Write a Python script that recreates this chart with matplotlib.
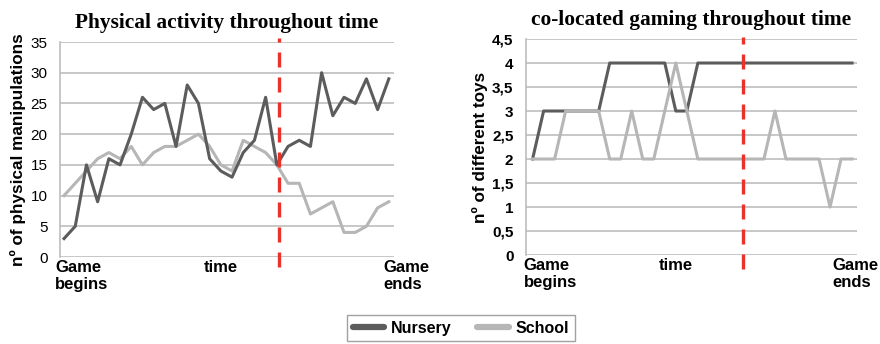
import numpy as np
import matplotlib.pyplot as plt

# physical manipulations per time step (30 steps)
nursery_phys = [3, 5, 15, 9, 16, 15, 20, 26, 24, 25, 18, 28, 25, 16, 14, 13, 17, 19, 26, 15,
                18, 19, 18, 30, 23, 26, 25, 29, 24, 29]
school_phys = [10, 12, 14, 16, 17, 16, 18, 15, 17, 18, 18, 19, 20, 18, 15, 14, 19, 18, 17, 15,
               12, 12, 7, 8, 9, 4, 4, 5, 8, 9]

# number of different toys per time step
nursery_toys = [2, 3, 3, 3, 3, 3, 3, 4, 4, 4, 4, 4, 4, 3, 3, 4, 4, 4, 4, 4,
                4, 4, 4, 4, 4, 4, 4, 4, 4, 4]
school_toys = [2, 2, 2, 3, 3, 3, 3, 2, 2, 3, 2, 2, 3, 4, 3, 2, 2, 2, 2, 2,
               2, 2, 3, 2, 2, 2, 2, 1, 2, 2]

split_idx = 19
phys_ticks = [0, 5, 10, 15, 20, 25, 30, 35]
toys_ticks = [0, 0.5, 1, 1.5, 2, 2.5, 3, 3.5, 4, 4.5]
toys_ticklabels = ['0', '0,5', '1', '1,5', '2', '2,5', '3', '3,5', '4', '4,5']

c_nur = '#5c5c5c'
c_sch = '#b6b6b6'
c_grid = '#bdbdbd'
c_red = '#e8322a'

plt.rcParams['font.family'] = ['Liberation Sans', 'DejaVu Sans']

fig = plt.figure(figsize=(8.8, 3.44), dpi=100)
ax1 = fig.add_axes([0.0682, 0.2529, 0.3795, 0.6250])
ax2 = fig.add_axes([0.5977, 0.2587, 0.3762, 0.6279])

x = np.arange(len(nursery_phys))


def style(ax, ticks, labels, ymax, weight):
    ax.set_ylim(0, ymax)
    ax.set_yticks(ticks)
    ax.set_yticklabels(labels, fontsize=11, fontweight=weight)
    ax.tick_params(axis='y', length=0, pad=9)
    ax.set_xticks([])
    for s in ['top', 'right', 'bottom']:
        ax.spines[s].set_visible(False)
    ax.spines['left'].set_color(c_grid)
    ax.spines['left'].set_linewidth(1.2)
    ax.yaxis.grid(True, color=c_grid, linewidth=1.2)
    ax.set_axisbelow(True)


def xlabels(ax, x_beg, x_time, x_end):
    tr = ax.get_xaxis_transform()
    kw = dict(transform=tr, va='top', fontsize=12, fontweight='bold', linespacing=1.15)
    ax.text(x_beg, -0.015, 'Game\nbegins', ha='left', **kw)
    ax.text(x_time, -0.015, 'time', ha='center', **kw)
    ax.text(x_end, -0.015, 'Game\nends', ha='left', **kw)


# left panel
ax1.plot(x, nursery_phys, color=c_nur, lw=2.2, zorder=3)
ax1.plot(x, school_phys, color=c_sch, lw=2.2, zorder=2)
ax1.set_xlim(-0.36, 29.46)
style(ax1, phys_ticks, [str(t) for t in phys_ticks], 35, 'normal')
ax1.plot([split_idx + 0.15] * 2, [-0.045, 1.02], transform=ax1.get_xaxis_transform(),
         color=c_red, lw=2.4, dashes=(4.5, 3), clip_on=False, zorder=4)
ax1.set_title('Physical activity throughout time', fontsize=15.4, fontweight='bold',
              family='Liberation Serif', pad=10)
ax1.set_ylabel('nº of physical manipulations', fontsize=12.3, fontweight='bold', labelpad=3)
xlabels(ax1, -0.8, 14.0, 28.5)

# right panel
ax2.plot(x, nursery_toys, color=c_nur, lw=2.2, zorder=2)
ax2.plot(x, school_toys, color=c_sch, lw=2.2, zorder=3)
ax2.set_xlim(-0.6, 29.45)
style(ax2, toys_ticks, toys_ticklabels, 4.5, 'bold')
ax2.plot([split_idx + 0.1] * 2, [-0.065, 1.01], transform=ax2.get_xaxis_transform(),
         color=c_red, lw=2.4, dashes=(4.5, 3), clip_on=False, zorder=4)
ax2.set_title('co-located gaming throughout time', fontsize=15.4, fontweight='bold',
              family='Liberation Serif', pad=10)
ax2.set_ylabel('nº of different toys', fontsize=12.3, fontweight='bold', labelpad=3)
xlabels(ax2, -0.8, 13.0, 27.2)

h1, = ax1.plot([], [], color=c_nur, lw=4.5, solid_capstyle='round')
h2, = ax1.plot([], [], color=c_sch, lw=4.5, solid_capstyle='round')
leg = fig.legend([h1, h2], ['Nursery', 'School'], loc='center', bbox_to_anchor=(0.524, 0.046),
                 ncol=2, frameon=True, fancybox=False, prop={'weight': 'bold', 'size': 11.5},
                 handlelength=1.95, columnspacing=1.6, handletextpad=0.45, borderpad=0.35)
leg.get_frame().set_edgecolor('#8a8a8a')
leg.get_frame().set_linewidth(1.0)

fig.savefig('out.png', dpi=100)
